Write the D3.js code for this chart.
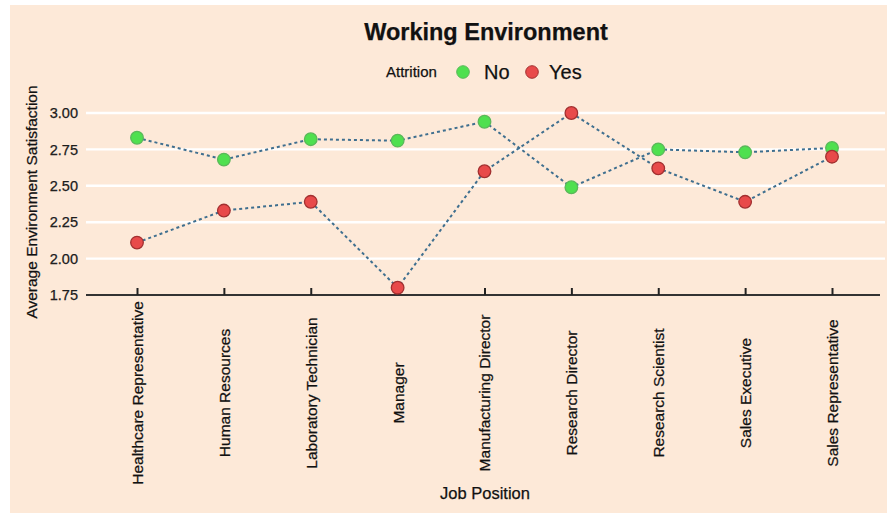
<!DOCTYPE html>
<html>
<head>
<meta charset="utf-8">
<script src="https://cdn.jsdelivr.net/npm/d3@7"></script>
<style>
  body { margin: 0; background: #fff; }
  svg { display: block; font-family: "Liberation Sans", Arial, sans-serif; }
  text { stroke: #111; stroke-width: 0.25px; }
</style>
</head>
<body>
<svg id="chart" width="887" height="515"></svg>
<script>
var jobs = ['Healthcare Representative', 'Human Resources', 'Laboratory Technician', 'Manager',
  'Manufacturing Director', 'Research Director', 'Research Scientist', 'Sales Executive', 'Sales Representative'];
var noValues = [2.83, 2.68, 2.82, 2.81, 2.94, 2.49, 2.75, 2.73, 2.76];
var yesValues = [2.11, 2.33, 2.39, 1.80, 2.60, 3.00, 2.62, 2.39, 2.70];
var yTicks = [1.75, 2.00, 2.25, 2.50, 2.75, 3.00];

var svg = d3.select('#chart');

// panel background
svg.append('rect')
  .attr('x', 10).attr('y', 5)
  .attr('width', 877).attr('height', 508)
  .attr('fill', '#fde9d8');

var x = d3.scalePoint().domain(jobs).range([137, 832]);
var y = d3.scaleLinear().domain([1.75, 3.0]).range([295, 113]);

// gridlines
svg.append('g')
  .selectAll('line')
  .data(yTicks.slice(1))
  .enter()
  .append('line')
  .attr('x1', 86).attr('x2', 885)
  .attr('y1', function(d) { return y(d); })
  .attr('y2', function(d) { return y(d); })
  .attr('stroke', '#fff')
  .attr('stroke-width', 2.4);

// y axis labels
var yAxis = svg.append('g')
  .attr('transform', 'translate(86,0)')
  .call(d3.axisLeft(y).tickValues(yTicks).tickFormat(d3.format('.2f')).tickSize(0).tickPadding(8));
yAxis.select('.domain').remove();
yAxis.selectAll('text')
  .attr('font-size', 14.5)
  .attr('font-family', '"Liberation Sans", Arial, sans-serif')
  .attr('fill', '#222');

// x axis
var xAxis = svg.append('g')
  .attr('transform', 'translate(0,295)')
  .call(d3.axisBottom(x).tickSize(7).tickSizeOuter(0));
xAxis.select('.domain').attr('d', 'M86,0H880').attr('stroke', '#333').attr('stroke-width', 2);
xAxis.selectAll('.tick line').attr('stroke', '#222').attr('stroke-width', 2).attr('y1', -7).attr('y2', 0);
xAxis.selectAll('text')
  .attr('font-size', 15.5)
  .attr('font-family', '"Liberation Sans", Arial, sans-serif')
  .attr('fill', '#111')
  .attr('transform', 'rotate(-90)')
  .attr('x', -98)
  .attr('y', 0)
  .attr('dy', '0.35em')
  .attr('text-anchor', 'middle');

// dashed lines
var line = d3.line()
  .x(function(d, i) { return x(jobs[i]); })
  .y(function(d) { return y(d); });

[noValues, yesValues].forEach(function(vals) {
  svg.append('path')
    .datum(vals)
    .attr('d', line)
    .attr('fill', 'none')
    .attr('stroke', '#3f6f8f')
    .attr('stroke-width', 2)
    .attr('stroke-dasharray', '3,3');
});

function drawPoints(vals, fill, stroke) {
  svg.append('g')
    .selectAll('circle')
    .data(vals)
    .enter()
    .append('circle')
    .attr('cx', function(d, i) { return x(jobs[i]); })
    .attr('cy', function(d) { return y(d); })
    .attr('r', 6.3)
    .attr('fill', fill)
    .attr('stroke', stroke)
    .attr('stroke-width', 1.3);
}
drawPoints(noValues, '#4fe04f', '#5ab85a');
drawPoints(yesValues, '#e84a4a', '#a23030');

// title
svg.append('text')
  .attr('x', 486).attr('y', 40)
  .attr('text-anchor', 'middle')
  .attr('font-size', 23.5)
  .attr('font-weight', 'bold')
  .attr('fill', '#111')
  .text('Working Environment');

// legend
var leg = svg.append('g').attr('transform', 'translate(0,72)');
leg.append('text').attr('x', 386).attr('y', 5).attr('font-size', 15).attr('fill', '#111').text('Attrition');
leg.append('circle').attr('cx', 463).attr('cy', 0).attr('r', 6.3).attr('fill', '#4fe04f').attr('stroke', '#5ab85a');
leg.append('text').attr('x', 484).attr('y', 7).attr('font-size', 20).attr('fill', '#111').text('No');
leg.append('circle').attr('cx', 532).attr('cy', 0).attr('r', 6.3).attr('fill', '#e84a4a').attr('stroke', '#a23030');
leg.append('text').attr('x', 549).attr('y', 7).attr('font-size', 20).attr('fill', '#111').text('Yes');

// axis titles
svg.append('text')
  .attr('transform', 'translate(37,202) rotate(-90)')
  .attr('text-anchor', 'middle')
  .attr('font-size', 15.5)
  .attr('fill', '#111')
  .text('Average Environment Satisfaction');

svg.append('text')
  .attr('x', 485).attr('y', 499)
  .attr('text-anchor', 'middle')
  .attr('font-size', 16.5)
  .attr('fill', '#111')
  .text('Job Position');
</script>
</body>
</html>
